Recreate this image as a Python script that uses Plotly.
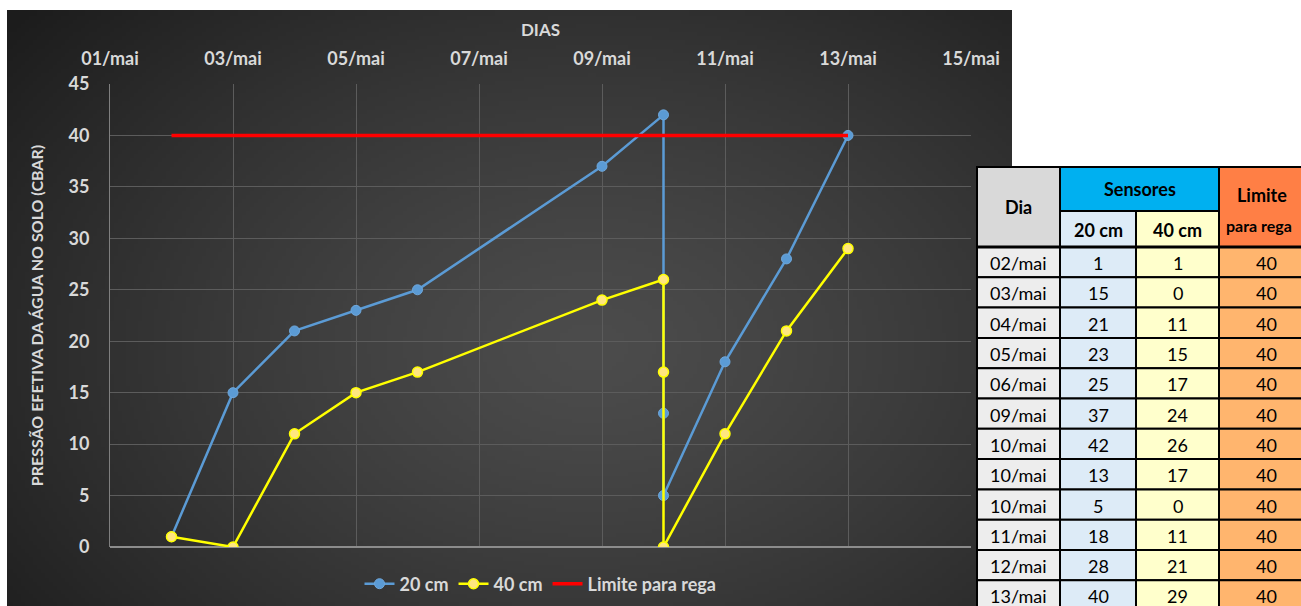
import base64
import struct
import zlib

import numpy as np
import plotly.graph_objects as go

# ---------------- data ----------------
dias = ["02/mai", "03/mai", "04/mai", "05/mai", "06/mai", "09/mai",
        "10/mai", "10/mai", "10/mai", "11/mai", "12/mai", "13/mai"]
sensor_20cm = [1, 15, 21, 23, 25, 37, 42, 13, 5, 18, 28, 40]
sensor_40cm = [1, 0, 11, 15, 17, 24, 26, 17, 0, 11, 21, 29]
limite_rega = [40, 40, 40, 40, 40, 40, 40, 40, 40, 40, 40, 40]
x_tick_labels = ["01/mai", "03/mai", "05/mai", "07/mai", "09/mai", "11/mai", "13/mai", "15/mai"]

YEAR = 2019
datas = [f"{YEAR}-05-{d.split('/')[0]}" for d in dias]
tick_dates = [f"{YEAR}-05-{t.split('/')[0]}" for t in x_tick_labels]

# ---------------- geometry (pixels) ----------------
FW, FH = 1301, 606
L, R, T, B = 110, 971, 84, 547
PW, PH = R - L, B - T


def px(x):
    return (x - L) / PW


def py(y):
    return (B - y) / PH


# ---------------- gradient background image ----------------
def make_png(arr):
    h, w, _ = arr.shape
    raw = b"".join(b"\x00" + arr[i].tobytes() for i in range(h))

    def chunk(tag, data):
        c = struct.pack(">I", len(data)) + tag + data
        return c + struct.pack(">I", zlib.crc32(tag + data) & 0xFFFFFFFF)

    png = b"\x89PNG\r\n\x1a\n"
    png += chunk(b"IHDR", struct.pack(">IIBBBBB", w, h, 8, 2, 0, 0, 0))
    png += chunk(b"IDAT", zlib.compress(raw, 9))
    png += chunk(b"IEND", b"")
    return "data:image/png;base64," + base64.b64encode(png).decode()


gw, gh = 250, 150
yy, xx = np.mgrid[0:gh, 0:gw]
cx, cy = 0.58 * gw, 0.55 * gh
d = np.sqrt(((xx - cx) / (0.75 * gw)) ** 2 + ((yy - cy) / (0.85 * gh)) ** 2)
d = np.clip(d, 0, 1)
val = 76 - (76 - 28) * d ** 1.3
img = np.clip(np.stack([val, val, val], axis=-1), 0, 255).astype(np.uint8)
bg_src = make_png(img)

CH_L, CH_R, CH_T, CH_B = 7, 1012, 10, 620

# ---------------- traces ----------------
fig = go.Figure()
fig.add_trace(go.Scatter(
    x=datas, y=sensor_20cm, name="20 cm", mode="lines+markers",
    line=dict(color="#5B9BD5", width=2.5),
    marker=dict(color="#5B9BD5", size=10, line=dict(color="#6FA8DC", width=1)),
))
fig.add_trace(go.Scatter(
    x=datas, y=sensor_40cm, name="40 cm", mode="lines+markers",
    line=dict(color="#FFFF00", width=2.5),
    marker=dict(color="#FFE680", size=10, line=dict(color="#FFFF00", width=1.5)),
))
fig.add_trace(go.Scatter(
    x=datas, y=limite_rega, name="Limite para rega", mode="lines",
    line=dict(color="#FF0000", width=3.5),
))

# ---------------- table (shapes + annotations) ----------------
shapes = []
annotations = []
col_x = [977, 1060, 1136, 1219, 1313]
h_top, h_mid, h_bot = 167, 211, 247
row_h = 30.3
TXT = "#000000"
FONT = "Lato"


def rect(x0, y0, x1, y1, fill, lw=2):
    shapes.append(dict(type="rect", xref="paper", yref="paper",
                       x0=px(x0), x1=px(x1), y0=py(y1), y1=py(y0),
                       fillcolor=fill, line=dict(color="#000000", width=lw),
                       layer="above"))


def text(x, y, s, size=17, bold=False):
    annotations.append(dict(xref="paper", yref="paper", x=px(x), y=py(y),
                            text=f"<b>{s}</b>" if bold else s, showarrow=False,
                            xanchor="center", yanchor="middle",
                            font=dict(family=FONT, size=size, color=TXT)))


# header
rect(col_x[0], h_top, col_x[1], h_bot, "#D9D9D9")
text((col_x[0] + col_x[1]) / 2, (h_top + h_bot) / 2, "Dia", size=18, bold=True)
rect(col_x[1], h_top, col_x[3], h_mid, "#00B0F0")
text((col_x[1] + col_x[3]) / 2, (h_top + h_mid) / 2, "Sensores", size=18, bold=True)
rect(col_x[1], h_mid, col_x[2], h_bot, "#DDEBF7")
text((col_x[1] + col_x[2]) / 2, (h_mid + h_bot) / 2 + 1, "20 cm", size=18, bold=True)
rect(col_x[2], h_mid, col_x[3], h_bot, "#FFFFCC")
text((col_x[2] + col_x[3]) / 2, (h_mid + h_bot) / 2 + 1, "40 cm", size=18, bold=True)
rect(col_x[3], h_top, col_x[4], h_bot, "#FF7F45")
text(1262, 195, "Limite", size=18, bold=True)
text(1259, 225, "para rega", size=16, bold=True)

col_fills = ["#EDEDED", "#DDEBF7", "#FFFFCC", "#FFB56E"]
columns = [dias, sensor_20cm, sensor_40cm, limite_rega]
for i in range(len(dias)):
    y0 = h_bot + i * row_h
    y1 = y0 + row_h
    for c in range(4):
        rect(col_x[c], y0, col_x[c + 1], y1, col_fills[c])
        text((col_x[c] + col_x[c + 1]) / 2, (y0 + y1) / 2 + 1, str(columns[c][i]), size=18)
# thicker line under header
shapes.append(dict(type="line", xref="paper", yref="paper",
                   x0=px(col_x[0]), x1=px(col_x[4]), y0=py(h_bot), y1=py(h_bot),
                   line=dict(color="#000000", width=3), layer="above"))

# ---------------- layout ----------------
LIGHT = "#D9D9D9"
fig.update_layout(
    width=FW, height=FH,
    margin=dict(l=L, r=FW - R, t=T, b=FH - B, pad=0, autoexpand=False),
    paper_bgcolor="#FFFFFF",
    plot_bgcolor="rgba(0,0,0,0)",
    font=dict(family=FONT, color=LIGHT, size=17),
    showlegend=True,
    legend=dict(orientation="h", x=0.5, xanchor="center", y=py(584), yanchor="middle",
                font=dict(family=FONT, size=18, color=LIGHT, weight="bold"),
                bgcolor="rgba(0,0,0,0)", itemwidth=30, tracegroupgap=0),
    images=[dict(source=bg_src, xref="paper", yref="paper",
                 x=px(CH_L), y=py(CH_T), sizex=px(CH_R) - px(CH_L), sizey=py(CH_T) - py(CH_B),
                 xanchor="left", yanchor="top", sizing="stretch", layer="below")],
    shapes=shapes,
    annotations=annotations,
    xaxis=dict(
        type="date", side="top", automargin=False,
        range=[tick_dates[0], tick_dates[-1]],
        tickvals=tick_dates, ticktext=x_tick_labels,
        showgrid=True, gridcolor="#5C5C5C", gridwidth=1,
        zeroline=False, showline=False,
        ticks="", ticklabelstandoff=14,
        tickfont=dict(family=FONT, size=18, color=LIGHT, weight="bold"),
        title=dict(text="DIAS", standoff=6,
                   font=dict(family=FONT, size=17, color=LIGHT, weight="bold")),
    ),
    yaxis=dict(
        range=[0, 45], dtick=5, tick0=0, automargin=False,
        showgrid=True, gridcolor="#5C5C5C", gridwidth=1,
        zeroline=True, zerolinecolor="#8C8C8C", zerolinewidth=1.5,
        showline=True, linecolor="#7F7F7F", linewidth=1,
        ticks="", ticklabelstandoff=16,
        tickfont=dict(family=FONT, size=18, color=LIGHT, weight="bold"),
        title=dict(text="PRESSÃO EFETIVA DA ÁGUA NO SOLO (CBAR)", standoff=20,
                   font=dict(family=FONT, size=16, color=LIGHT, weight="bold")),
    ),
)

fig.write_html("out.html")
